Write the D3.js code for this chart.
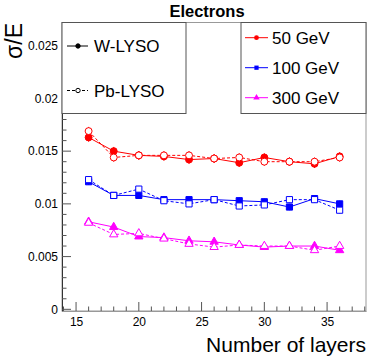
<!DOCTYPE html>
<html>
<head>
<meta charset="utf-8">
<script src="https://cdn.jsdelivr.net/npm/d3@7"></script>
<style>
  body { margin: 0; background: #fff; }
  svg { display: block; font-family: "Liberation Sans", Arial, sans-serif; }
</style>
</head>
<body>
<svg id="chart"></svg>
<script>
// layers scanned
var layers = [16, 18, 20, 22, 24, 26, 28, 30, 32, 34, 36];

// W-LYSO (solid lines, filled markers)
var w50  = [0.0163, 0.0150, 0.0146, 0.0145, 0.0142, 0.0143, 0.0139, 0.0144, 0.0140, 0.0138, 0.0145];
var w100 = [0.0121, 0.0108, 0.0108, 0.0104, 0.0104, 0.0104, 0.0103, 0.0102, 0.0097, 0.0105, 0.0100];
var w300 = [0.0083, 0.0078, 0.0069, 0.0068, 0.0065, 0.0064, 0.0061, 0.0059, 0.0060, 0.0060, 0.0056];

// Pb-LYSO (dashed lines, open markers)
var pb50  = [0.0169, 0.0144, 0.0146, 0.0146, 0.0146, 0.0143, 0.0144, 0.0140, 0.0140, 0.0140, 0.0144];
var pb100 = [0.0123, 0.0108, 0.0114, 0.0103, 0.0100, 0.0104, 0.0098, 0.0099, 0.0104, 0.0104, 0.0094];
var pb300 = [0.0082, 0.0071, 0.0072, 0.0067, 0.0062, 0.0059, 0.0061, 0.0060, 0.0060, 0.0056, 0.0060];

// errors per energy
var err50 = 0.0004, err100 = 0.0003, err300 = 0.0002;

var energies = ["50 GeV", "100 GeV", "300 GeV"];
var colors = ["#ff0000", "#0000ff", "#ff00ff"];

var xTicks = [15, 20, 25, 30, 35];
var yTicks = [0, 0.005, 0.01, 0.015, 0.02, 0.025];
var yTickLabels = ["0", "0.005", "0.01", "0.015", "0.02", "0.025"];

var Chart = (function(){
    var width = 381, height = 363;
    var fl = 62, fr = 366, ft = 22.5, fb = 311;
    var shapes = [d3.symbolCircle, d3.symbolSquare, d3.symbolTriangle];
    var errs = [err50, err100, err300];

    var svg = d3.select("#chart").attr("width", width).attr("height", height);

    var x = d3.scaleLinear().domain([13.88, 38.1]).range([fl, fr]);
    var y = d3.scaleLinear().domain([-0.00016, 0.0272]).range([fb, ft]);

    function drawAxes(){
        svg.append("rect")
            .attr("x", fl).attr("y", ft)
            .attr("width", fr - fl).attr("height", fb - ft)
            .attr("fill", "none").attr("stroke", "#999").attr("stroke-width", 1);

        var yAxis = d3.axisLeft(y).tickValues(yTicks).tickSize(0).tickPadding(4)
            .tickFormat(function(d, i){ return yTickLabels[i]; });
        var gy = svg.append("g").attr("transform", "translate(" + fl + ",0)").call(yAxis);
        gy.select(".domain").attr("stroke", "#333");
        gy.selectAll("text").attr("font-size", 12).attr("fill", "#000");

        d3.range(0, 0.0271, 0.001).forEach(function(v){
            var major = Math.abs(v / 0.005 - Math.round(v / 0.005)) < 1e-6;
            svg.append("line")
                .attr("x1", fl).attr("x2", fl + (major ? 9 : 4.5))
                .attr("y1", y(v)).attr("y2", y(v))
                .attr("stroke", "#555").attr("stroke-width", 1);
        });

        var xAxis = d3.axisBottom(x).tickValues(xTicks).tickSize(0).tickPadding(6);
        var gx = svg.append("g").attr("transform", "translate(0," + fb + ")").call(xAxis);
        gx.select(".domain").attr("stroke", "#999");
        gx.selectAll("text").attr("font-size", 12).attr("fill", "#000");

        d3.range(14, 39).forEach(function(v){
            var major = v % 5 === 0;
            svg.append("line")
                .attr("x1", x(v)).attr("x2", x(v))
                .attr("y1", fb).attr("y2", fb - (major ? 9 : 4.5))
                .attr("stroke", "#555").attr("stroke-width", 1);
        });

        svg.append("text").attr("x", 207).attr("y", 17)
            .attr("text-anchor", "middle").attr("font-weight", "bold").attr("font-size", 16.5)
            .text("Electrons");

        svg.append("text")
            .attr("transform", "translate(22,23) rotate(-90)")
            .attr("text-anchor", "end").attr("font-size", 23)
            .text("σ/E");

        svg.append("text").attr("x", 366).attr("y", 352)
            .attr("text-anchor", "end").attr("font-size", 21)
            .text("Number of layers");
    }

    function drawSeries(){
        var series = [];
        energies.forEach(function(e, i){
            series.push({ i: i, dash: null, open: false, values: [w50, w100, w300][i] });
            series.push({ i: i, dash: "3,2", open: true, values: [pb50, pb100, pb300][i] });
        });

        var line = d3.line().x(d => x(d[0])).y(d => y(d[1]));

        series.forEach(function(s){
            var col = colors[s.i], shape = shapes[s.i], e = errs[s.i];
            var pts = layers.map((l, j) => [l, s.values[j]]);
            var g = svg.append("g");
            g.append("path").datum(pts)
                .attr("d", line).attr("fill", "none")
                .attr("stroke", col).attr("stroke-width", 1)
                .attr("stroke-dasharray", s.dash);
            g.selectAll(".eb").data(pts).enter().append("line")
                .attr("x1", d => x(d[0])).attr("x2", d => x(d[0]))
                .attr("y1", d => y(d[1] - e)).attr("y2", d => y(d[1] + e))
                .attr("stroke", col).attr("stroke-width", 1);
            g.selectAll(".mk").data(pts).enter().append("path")
                .attr("d", d3.symbol().type(shape).size(shape === d3.symbolTriangle ? 30 : 38))
                .attr("transform", d => "translate(" + x(d[0]) + "," + y(d[1]) + ")")
                .attr("fill", s.open ? "#fff" : col)
                .attr("stroke", col).attr("stroke-width", 1);
        });
    }

    function drawLegends(){
        var lg1 = svg.append("g");
        lg1.append("rect").attr("x", fl).attr("y", ft).attr("width", 124).attr("height", 91)
            .attr("fill", "#fff").attr("stroke", "#555").attr("stroke-width", 1);
        [["W-LYSO", null, false, 46], ["Pb-LYSO", "3,2", true, 90.5]].forEach(function(r){
            lg1.append("line").attr("x1", 67).attr("x2", 88).attr("y1", r[3]).attr("y2", r[3])
                .attr("stroke", "#000").attr("stroke-dasharray", r[1]);
            lg1.append("circle").attr("cx", 78).attr("cy", r[3]).attr("r", 2.2)
                .attr("fill", r[2] ? "#fff" : "#000").attr("stroke", "#000");
            lg1.append("text").attr("x", 94).attr("y", r[3] + 6).attr("font-size", 17).text(r[0]);
        });

        var lg2 = svg.append("g");
        lg2.append("rect").attr("x", 241).attr("y", ft).attr("width", fr - 241).attr("height", 91)
            .attr("fill", "#fff").attr("stroke", "#555").attr("stroke-width", 1);
        energies.forEach(function(e, i){
            var ly = 37.7 + i * 30;
            lg2.append("line").attr("x1", 245).attr("x2", 268).attr("y1", ly).attr("y2", ly)
                .attr("stroke", colors[i]);
            lg2.append("path")
                .attr("d", d3.symbol().type(shapes[i]).size(18))
                .attr("transform", "translate(256.5," + ly + ")")
                .attr("fill", colors[i]);
            lg2.append("text").attr("x", 272).attr("y", ly + 6).attr("font-size", 17).text(e);
        });
    }

    return {
        init: function(){
            drawAxes();
            drawSeries();
            drawLegends();
        }
    };
})();

Chart.init();
</script>
</body>
</html>
